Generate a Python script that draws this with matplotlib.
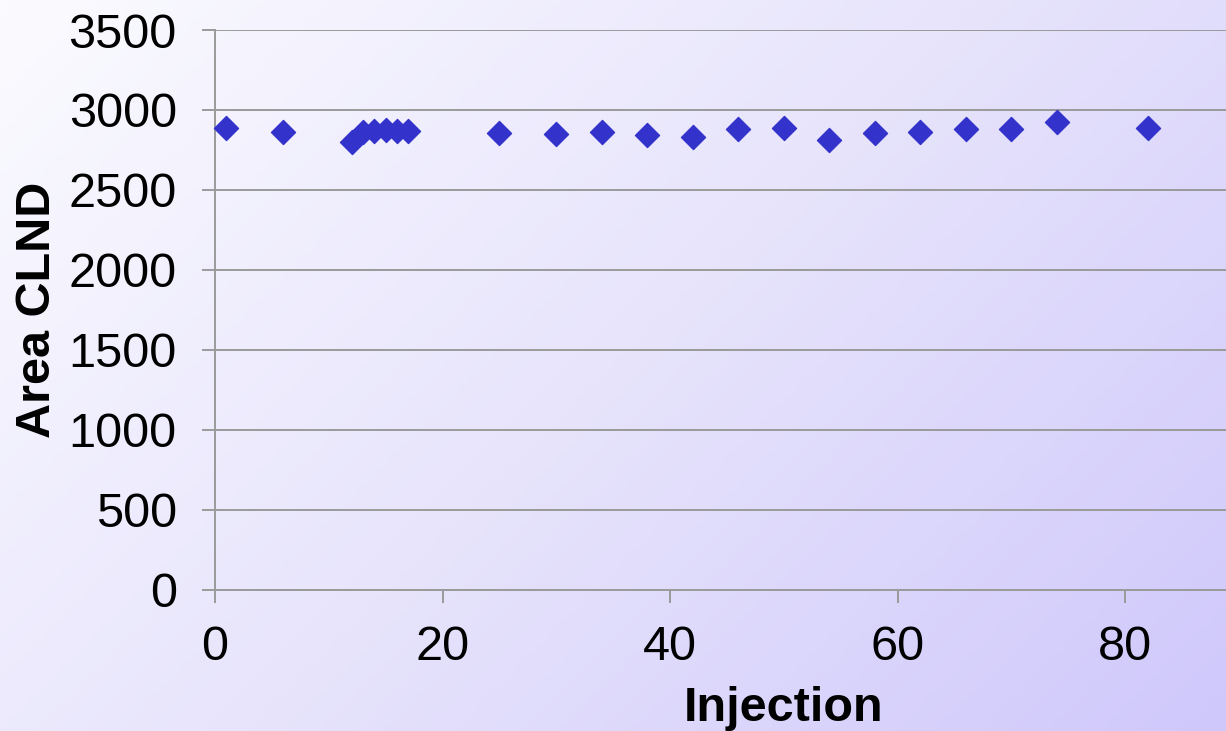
import matplotlib
matplotlib.use("Agg")
import matplotlib.pyplot as plt
import numpy as np
from matplotlib.colors import LinearSegmentedColormap

injection = [1, 6, 12, 13, 14, 15, 16, 17, 25, 30, 34, 38, 42, 46, 50, 54, 58, 62, 66, 70, 74, 82]
area_clnd = [2890, 2865, 2802, 2860, 2869, 2875, 2867, 2869, 2854, 2848, 2860,
             2844, 2829, 2879, 2890, 2813, 2858, 2860, 2883, 2881, 2927, 2890]

x_ticks = [0, 20, 40, 60, 80]
y_ticks = [0, 500, 1000, 1500, 2000, 2500, 3000, 3500]

plt.rcParams["font.family"] = ["Liberation Sans", "DejaVu Sans"]

W, H = 1226, 731
fig = plt.figure(figsize=(W / 100, H / 100), dpi=100)

# diagonal background gradient, white top-left to lavender bottom-right
bg = fig.add_axes([0, 0, 1, 1], zorder=0)
gx, gy = np.meshgrid(np.linspace(0, 1, 300), np.linspace(0, 1, 200))
grad = (gx * W + gy * H) / (W + H)
cmap = LinearSegmentedColormap.from_list("bg", ["#fbfbff", "#e7e4fc", "#cfc8fb"])
bg.imshow(grad, cmap=cmap, aspect="auto", extent=[0, 1, 0, 1], origin="upper")
bg.axis("off")

gray = "#9a9a9a"
# plot area runs to x=100, past the right edge of the picture
ax = fig.add_axes([215 / W, 1 - 589.5 / H, 1137.5 / W, 559.5 / H], zorder=1)
ax.set_facecolor("none")
ax.scatter(injection, area_clnd, marker="D", s=150, color="#3333cc", zorder=3, clip_on=False)

ax.set_xlim(0, 100)
ax.set_ylim(0, 3500)
ax.set_xticks(x_ticks)
ax.set_yticks(y_ticks)
ax.yaxis.grid(True, color=gray, linewidth=1.4)
ax.set_axisbelow(True)

for side in ["top", "right"]:
    ax.spines[side].set_visible(False)
for side in ["left", "bottom"]:
    ax.spines[side].set_color(gray)
    ax.spines[side].set_linewidth(1.4)

ax.tick_params(axis="both", direction="out", length=9.5, width=1.4, color=gray,
               labelsize=35, labelcolor="black")
ax.tick_params(axis="y", pad=18)
ax.tick_params(axis="x", pad=16)

ax.set_xlabel("Injection", fontsize=35, fontweight="bold")
ax.set_ylabel("Area CLND", fontsize=35, fontweight="bold")
ax.xaxis.set_label_coords(0.5, -0.172)
ax.yaxis.set_label_coords(-0.1365, 0.5)

fig.savefig("out.png", dpi=100)
